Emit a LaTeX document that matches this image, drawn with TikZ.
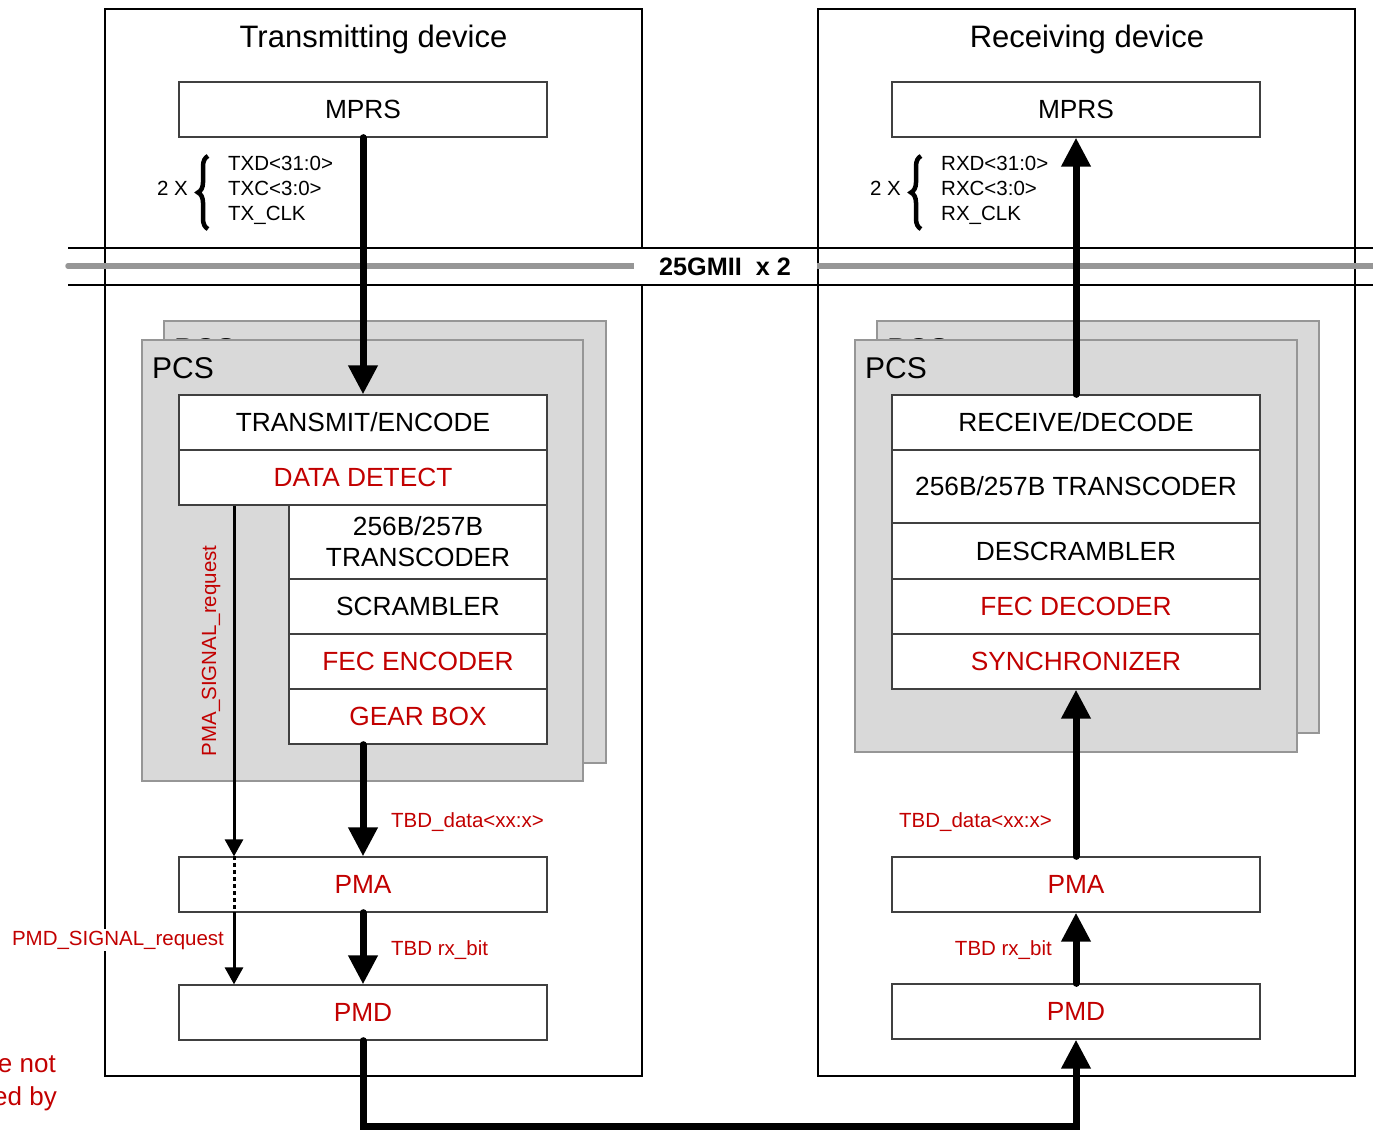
\documentclass[tikz,border=0pt]{standalone}
\usepackage{fontspec}
\setmainfont{Liberation Sans}
\usetikzlibrary{arrows.meta,decorations.pathreplacing}
\definecolor{redA}{RGB}{194,0,0}
\definecolor{pcsfill}{RGB}{217,217,217}
\definecolor{pcsedge}{RGB}{150,150,150}
\definecolor{barg}{RGB}{150,150,150}
\newcommand{\myfs}[1]{\fontsize{#1}{#1}\selectfont}
\begin{document}
\begin{tikzpicture}[x=1pt,y=-1pt,
  dev/.style={draw=black, line width=1.5pt, inner sep=0pt},
  blk/.style={draw=black!75, line width=1.3pt, fill=white, inner sep=0pt, align=center,
              font=\fontsize{26.3}{31}\selectfont, minimum width=368pt, minimum height=55pt},
  sblk/.style={blk, minimum width=258pt},
  pcsbox/.style={draw=pcsedge, line width=2pt, fill=pcsfill, inner sep=0pt},
  bigarrow/.style={line width=7pt, line cap=round, -{Triangle[width=28pt,length=29pt]}},
  thinarrow/.style={line width=3pt, -{Triangle[width=18pt,length=17pt]}},
  lbl/.style={font=\myfs{20.5}, text=redA, inner sep=0pt},
  sig/.style={font=\myfs{20.5}, inner sep=0pt},
  rtxt/.style={text=redA},
  bracestyle/.style={line width=4.5pt, decorate, decoration={brace, amplitude=10pt}}
]
\useasboundingbox (0,0) rectangle (1373,1130);

% device boxes
\node[dev, minimum width=537pt, minimum height=1067pt] (tdev) at (373.5,542.5) {};
\node[dev, minimum width=537pt, minimum height=1067pt] (rdev) at (1086.5,542.5) {};
\node[anchor=base, font=\myfs{31}, inner sep=0pt] (ttitle) at (373.5,47) {Transmitting device};
\node[anchor=base, font=\myfs{31}, inner sep=0pt] (rtitle) at (1087,47) {Receiving device};

% 25GMII bar
\draw[barg, line width=5.5pt, line cap=round] (68,266) -- (1376,266);
\node[fill=white, minimum width=183pt, minimum height=36pt, inner sep=0pt, font=\bfseries\myfs{25.2}] (gmii) at (725,266.5) {25GMII\ \ x 2};
\draw[line width=1.5pt] (68,248) -- (1373,248);
\draw[line width=1.5pt] (68,285) -- (1373,285);

% MPRS and signal lists
\node[blk] (mprsL) at (363,109.5) {MPRS};
\node[blk] (mprsR) at (1076,109.5) {MPRS};

\node[sig, anchor=base east] (twoxL) at (188,195) {2 X};
\draw[bracestyle] (208,229) -- (208,156);
\node[sig, anchor=base west] (txd) at (228,170) {TXD<31:0>};
\node[sig, anchor=base west] (txc) at (228,195) {TXC<3:0>};
\node[sig, anchor=base west] (txclk) at (228,220) {TX\_CLK};

\node[sig, anchor=base east] (twoxR) at (901,195) {2 X};
\draw[bracestyle] (921,229) -- (921,156);
\node[sig, anchor=base west] (rxd) at (941,170) {RXD<31:0>};
\node[sig, anchor=base west] (rxc) at (941,195) {RXC<3:0>};
\node[sig, anchor=base west] (rxclk) at (941,220) {RX\_CLK};

% PCS boxes (left)
\node[pcsbox, minimum width=442pt, minimum height=442pt] (pcsLb) at (385,542) {};
\node[font=\myfs{30}, inner sep=0pt, anchor=base west] (pcsLbt) at (174,359) {PCS};
\node[pcsbox, minimum width=441pt, minimum height=441pt] (pcsLf) at (362.5,560.5) {};
\node[font=\myfs{30}, inner sep=0pt, anchor=base west] (pcsLt) at (152,378) {PCS};
% PCS boxes (right)
\node[pcsbox, minimum width=442pt, minimum height=412pt] (pcsRb) at (1098,527) {};
\node[font=\myfs{30}, inner sep=0pt, anchor=base west] (pcsRbt) at (887,359) {PCS};
\node[pcsbox, minimum width=442pt, minimum height=412pt] (pcsRf) at (1076,546) {};
\node[font=\myfs{30}, inner sep=0pt, anchor=base west] (pcsRt) at (865,378) {PCS};

% left stack
\node[blk] (teL) at (363,422.5) {TRANSMIT/ENCODE};
\node[blk, rtxt] (ddL) at (363,477.5) {DATA DETECT};
\node[sblk, minimum height=74pt] (tcL) at (418,542) {256B/257B\\TRANSCODER};
\node[sblk] (scL) at (418,606.5) {SCRAMBLER};
\node[sblk, rtxt] (feL) at (418,661.5) {FEC ENCODER};
\node[sblk, rtxt] (gbL) at (418,716.5) {GEAR BOX};
\node[blk, rtxt] (pmaL) at (363,884.5) {PMA};
\node[blk, rtxt] (pmdL) at (363,1012.5) {PMD};

% right stack
\node[blk] (rdR) at (1076,422.5) {RECEIVE/DECODE};
\node[blk, minimum height=73pt] (tcR) at (1076,486.5) {256B/257B TRANSCODER};
\node[blk, minimum height=56pt] (dsR) at (1076,551) {DESCRAMBLER};
\node[blk, rtxt] (fdR) at (1076,606.5) {FEC DECODER};
\node[blk, rtxt] (syR) at (1076,661.5) {SYNCHRONIZER};
\node[blk, rtxt] (pmaR) at (1076,884.5) {PMA};
\node[blk, rtxt] (pmdR) at (1076,1011.5) {PMD};

% thick arrows
\draw[bigarrow] (mprsL.south) -- (teL.north);
\draw[bigarrow] (pmaL.north |- gbL.south) -- (pmaL.north);
\draw[bigarrow] (pmaL.south) -- (pmdL.north);
\draw[bigarrow] (rdR.north) -- (mprsR.south);
\draw[bigarrow] (pmaR.north) -- (syR.south);
\draw[bigarrow] (pmdR.north) -- (pmaR.south);
\coordinate (bot) at (720,1126);
\draw[bigarrow] (pmdL.south) |- (bot) -| (pmdR.south);

% signal request lines
\coordinate (sigx) at (234,0);
\draw[thinarrow] (sigx |- ddL.south) -- (sigx |- pmaL.north);
\draw[line width=3pt, dash pattern=on 4pt off 3pt] (sigx |- pmaL.north) -- (sigx |- pmaL.south);
\draw[thinarrow] (sigx |- pmaL.south) -- (sigx |- pmdL.north);

% labels
\node[lbl, rotate=90] (pmasig) at (211,651) {PMA\_SIGNAL\_request};
\node[lbl, fill=white, inner sep=2pt] (pmdsig) at (118,940) {PMD\_SIGNAL\_request};
\node[lbl, anchor=base west] (tbdL) at (391,827) {TBD\_data<xx:x>};
\node[lbl, anchor=base west] (rxbL) at (391,955) {TBD rx\_bit};
\node[lbl, anchor=base east] (tbdR) at (1052,827) {TBD\_data<xx:x>};
\node[lbl, anchor=base east] (rxbR) at (1052,955) {TBD rx\_bit};

\node[font=\myfs{26}, text=redA, inner sep=0pt, anchor=base east] (note1) at (56,1072) {e not};
\node[font=\myfs{26}, text=redA, inner sep=0pt, anchor=base east] (note2) at (57,1105) {ed by};
\end{tikzpicture}
\end{document}
